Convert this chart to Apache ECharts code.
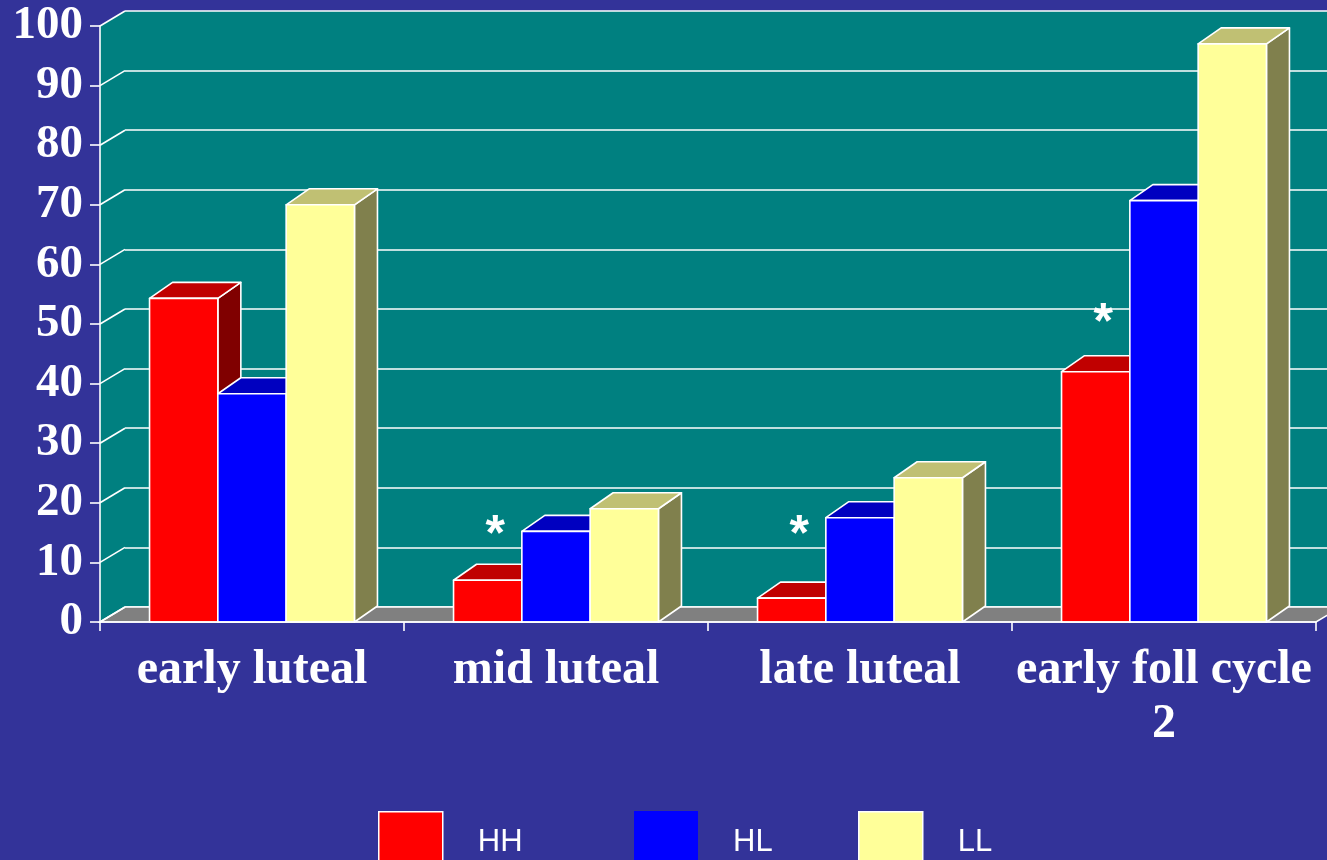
<!DOCTYPE html>
<html>
<head>
<meta charset="utf-8">
<title>Luteal phase comparison</title>
<script src="https://cdn.jsdelivr.net/npm/echarts@6/dist/echarts.min.js"></script>
<style>
  html, body { margin: 0; padding: 0; background: #333399; }
  #chart { width: 1327px; height: 860px; }
</style>
</head>
<body>
<div id="chart"></div>
<script>
// ---- data ----
const categories = ['early luteal', 'mid luteal', 'late luteal', 'early foll cycle\n2'];
const seriesNames = ['HH', 'HL', 'LL'];
const hhValues = [54.3, 7, 4, 42];
const hlValues = [38.3, 15.2, 17.5, 70.7];
const llValues = [70, 19, 24.2, 97];
const yTicks = [0, 10, 20, 30, 40, 50, 60, 70, 80, 90, 100];
// significance markers: [category index, value level]
const asteriskMarks = [[1, 16], [2, 16], [3, 51.7]];

// ---- styling ----
const BG = '#333399';
const WALL = '#008080';
const FLOOR = '#808080';
const WALL_DX = 25, WALL_DY = -15;   // depth of the back wall
const BAR_DX = 23, BAR_DY = -16;     // depth of each box
const BAR_FRAC = 0.2247;             // box width as a share of the category band
const faceColors = [
  { front: '#FF0000', top: '#C00000', side: '#800000' },
  { front: '#0000FF', top: '#0000C0', side: '#000080' },
  { front: '#FFFF99', top: '#C0C073', side: '#80804D' }
];
const allValues = [hhValues, hlValues, llValues];

const chart = echarts.init(document.getElementById('chart'), null, { renderer: 'canvas' });

function boxRenderer(k) {
  const c = faceColors[k];
  return function (params, api) {
    const cat = api.value(0), val = api.value(1);
    const base = api.coord([cat, 0]);
    const topPt = api.coord([cat, val]);
    const band = api.size([1, 0])[0];
    const w = band * BAR_FRAC;
    const x0 = base[0] + (k - 1.5) * w, x1 = x0 + w;
    const yb = base[1], yt = topPt[1];
    const stroke = { stroke: '#ffffff', lineWidth: 1.6, lineJoin: 'round' };
    return {
      type: 'group',
      children: [
        { type: 'polygon', shape: { points: [[x1, yt], [x1 + BAR_DX, yt + BAR_DY], [x1 + BAR_DX, yb + BAR_DY], [x1, yb]] },
          style: Object.assign({ fill: c.side }, stroke) },
        { type: 'polygon', shape: { points: [[x0, yt], [x0 + BAR_DX, yt + BAR_DY], [x1 + BAR_DX, yt + BAR_DY], [x1, yt]] },
          style: Object.assign({ fill: c.top }, stroke) },
        { type: 'rect', shape: { x: x0, y: yt, width: w, height: yb - yt },
          style: Object.assign({ fill: c.front }, stroke) }
      ]
    };
  };
}

// left side wall, floor and the slanted grid lines joining front axis to back wall
function frameRenderer(params, api) {
  const cs = params.coordSys;
  const v = api.value(1);
  const y = api.coord([0, v])[1];
  const x = cs.x;
  const children = [];
  if (params.dataIndex === 0) {
    const yb = cs.y + cs.height;
    children.push({ type: 'polygon', shape: { points: [[x, cs.y], [x + WALL_DX, cs.y + WALL_DY], [x + WALL_DX, yb + WALL_DY], [x, yb]] },
      style: { fill: WALL } });
    children.push({ type: 'polygon', shape: { points: [[x, yb], [x + cs.width, yb], [x + cs.width + WALL_DX, yb + WALL_DY], [x + WALL_DX, yb + WALL_DY]] },
      style: { fill: FLOOR, stroke: '#ffffff', lineWidth: 1.6 } });
  }
  children.push({ type: 'line', shape: { x1: x, y1: y, x2: x + WALL_DX, y2: y + WALL_DY },
    style: { stroke: '#ffffff', lineWidth: 1.6 } });
  return { type: 'group', children: children };
}

function asteriskRenderer(params, api) {
  const p = api.coord([api.value(0), api.value(1)]);
  const band = api.size([1, 0])[0];
  return {
    type: 'text',
    x: p[0] - band * 0.2,
    y: p[1] + 10,
    style: { text: '*', fill: '#ffffff', font: 'bold 50px "Liberation Sans", Arial, sans-serif',
      textAlign: 'center', textVerticalAlign: 'middle' }
  };
}

const legendText = { color: '#ffffff', fontFamily: '"Liberation Sans", Arial, sans-serif', fontSize: 31, padding: [0, 0, 0, 30] };
const legendLefts = [378, 634, 858];

const option = {
  backgroundColor: BG,
  animation: false,
  grid: [
    { left: 100, top: 26, width: 1216, height: 596, show: false },
    { left: 125, top: 11, width: 1216, height: 596, show: true, backgroundColor: WALL, borderWidth: 0 }
  ],
  xAxis: [
    { type: 'category', gridIndex: 0, data: categories, z: 10,
      axisLine: { lineStyle: { color: '#ffffff', width: 1.6 } },
      axisTick: { show: true, length: 9, lineStyle: { color: '#ffffff', width: 1.6 } },
      axisLabel: { interval: 0, color: '#ffffff', fontFamily: '"Liberation Serif", "Times New Roman", serif',
        fontWeight: 'bold', fontSize: 48, lineHeight: 54, margin: 22 } },
    { type: 'category', gridIndex: 1, data: categories, show: false }
  ],
  yAxis: [
    { type: 'value', gridIndex: 0, min: 0, max: 100, interval: 10, z: 10,
      axisLine: { show: true, lineStyle: { color: '#ffffff', width: 1.6 } },
      axisTick: { show: true, length: 10, lineStyle: { color: '#ffffff', width: 1.6 } },
      splitLine: { show: false },
      axisLabel: { color: '#ffffff', fontFamily: '"Liberation Serif", "Times New Roman", serif',
        fontWeight: 'bold', fontSize: 47, margin: 17 } },
    { type: 'value', gridIndex: 1, min: 0, max: 100, interval: 10,
      axisLine: { show: false }, axisTick: { show: false }, axisLabel: { show: false },
      splitLine: { show: true, lineStyle: { color: '#ffffff', width: 1.6 } } }
  ],
  legend: seriesNames.map((name, i) => ({
    data: [name], left: legendLefts[i], top: 811, padding: 0,
    icon: 'rect', itemWidth: 64, itemHeight: 62, textStyle: legendText,
    itemStyle: i === 1 ? { borderWidth: 0 } : { borderColor: '#ffffff', borderWidth: 1.5 },
    selectedMode: false
  })),
  series: [
    { type: 'custom', name: 'frame', xAxisIndex: 0, yAxisIndex: 0, z: 1, silent: true,
      data: yTicks.map(v => [0, v]), renderItem: frameRenderer }
  ].concat(seriesNames.map((name, k) => ({
    type: 'custom', name: name, xAxisIndex: 0, yAxisIndex: 0, z: 2,
    itemStyle: { color: faceColors[k].front },
    data: allValues[k].map((v, i) => [i, v]),
    encode: { x: 0, y: 1 },
    renderItem: boxRenderer(k)
  }))).concat([
    { type: 'custom', name: 'marks', xAxisIndex: 0, yAxisIndex: 0, z: 3, silent: true,
      data: asteriskMarks, renderItem: asteriskRenderer }
  ])
};

chart.setOption(option);
</script>
</body>
</html>
